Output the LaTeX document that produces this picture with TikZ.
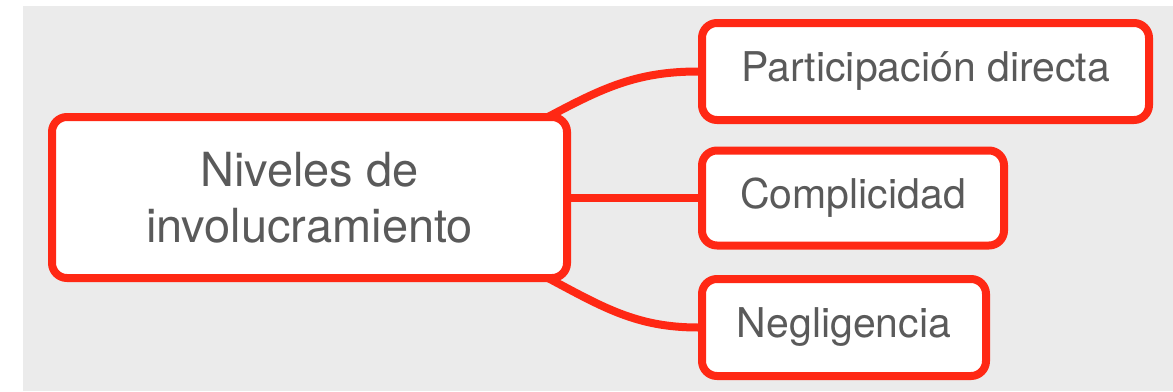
\documentclass[tikz,border=0pt]{standalone}
\usepackage{fontspec}
\setmainfont{TeX Gyre Heros}
\usetikzlibrary{calc}
\definecolor{bred}{RGB}{255,40,20}
\definecolor{bgray}{RGB}{235,235,235}
\definecolor{tgray}{RGB}{90,90,90}
\begin{document}
\begin{tikzpicture}[x=1pt,y=-1pt,
  box/.style={draw=bred,line width=8pt,fill=white,rounded corners=15pt,
    text=tgray,font=\fontsize{41}{46}\selectfont,align=center,inner sep=0pt},
  mainbox/.style={box,font=\fontsize{47}{56}\selectfont},
  link/.style={draw=bred,line width=8pt}]
\fill[white] (0,0) rectangle (1173,391);
\useasboundingbox (0,0) rectangle (1173,391);
\fill[bgray] (23,6) rectangle (1173,391);
\coordinate (mt) at (548,117);
\coordinate (mb) at (548,278);
\node[mainbox,minimum width=515pt,minimum height=161pt] (main) at (309.5,197.5) {Niveles de\\involucramiento};
\node[box,minimum width=447pt,minimum height=97pt] (pd) at (925.5,71.5) {Participación directa};
\node[box,minimum width=302pt,minimum height=95pt] (co) at (853,198) {Complicidad};
\node[box,minimum width=284pt,minimum height=97pt] (ne) at (844,327.5) {Negligencia};
\draw[link] (mt) to[out=28,in=180] (pd.west);
\draw[link] (main.east) -- (main.east -| co.west);
\draw[link] (mb) to[out=-28,in=180] (ne.west);
\end{tikzpicture}
\end{document}
